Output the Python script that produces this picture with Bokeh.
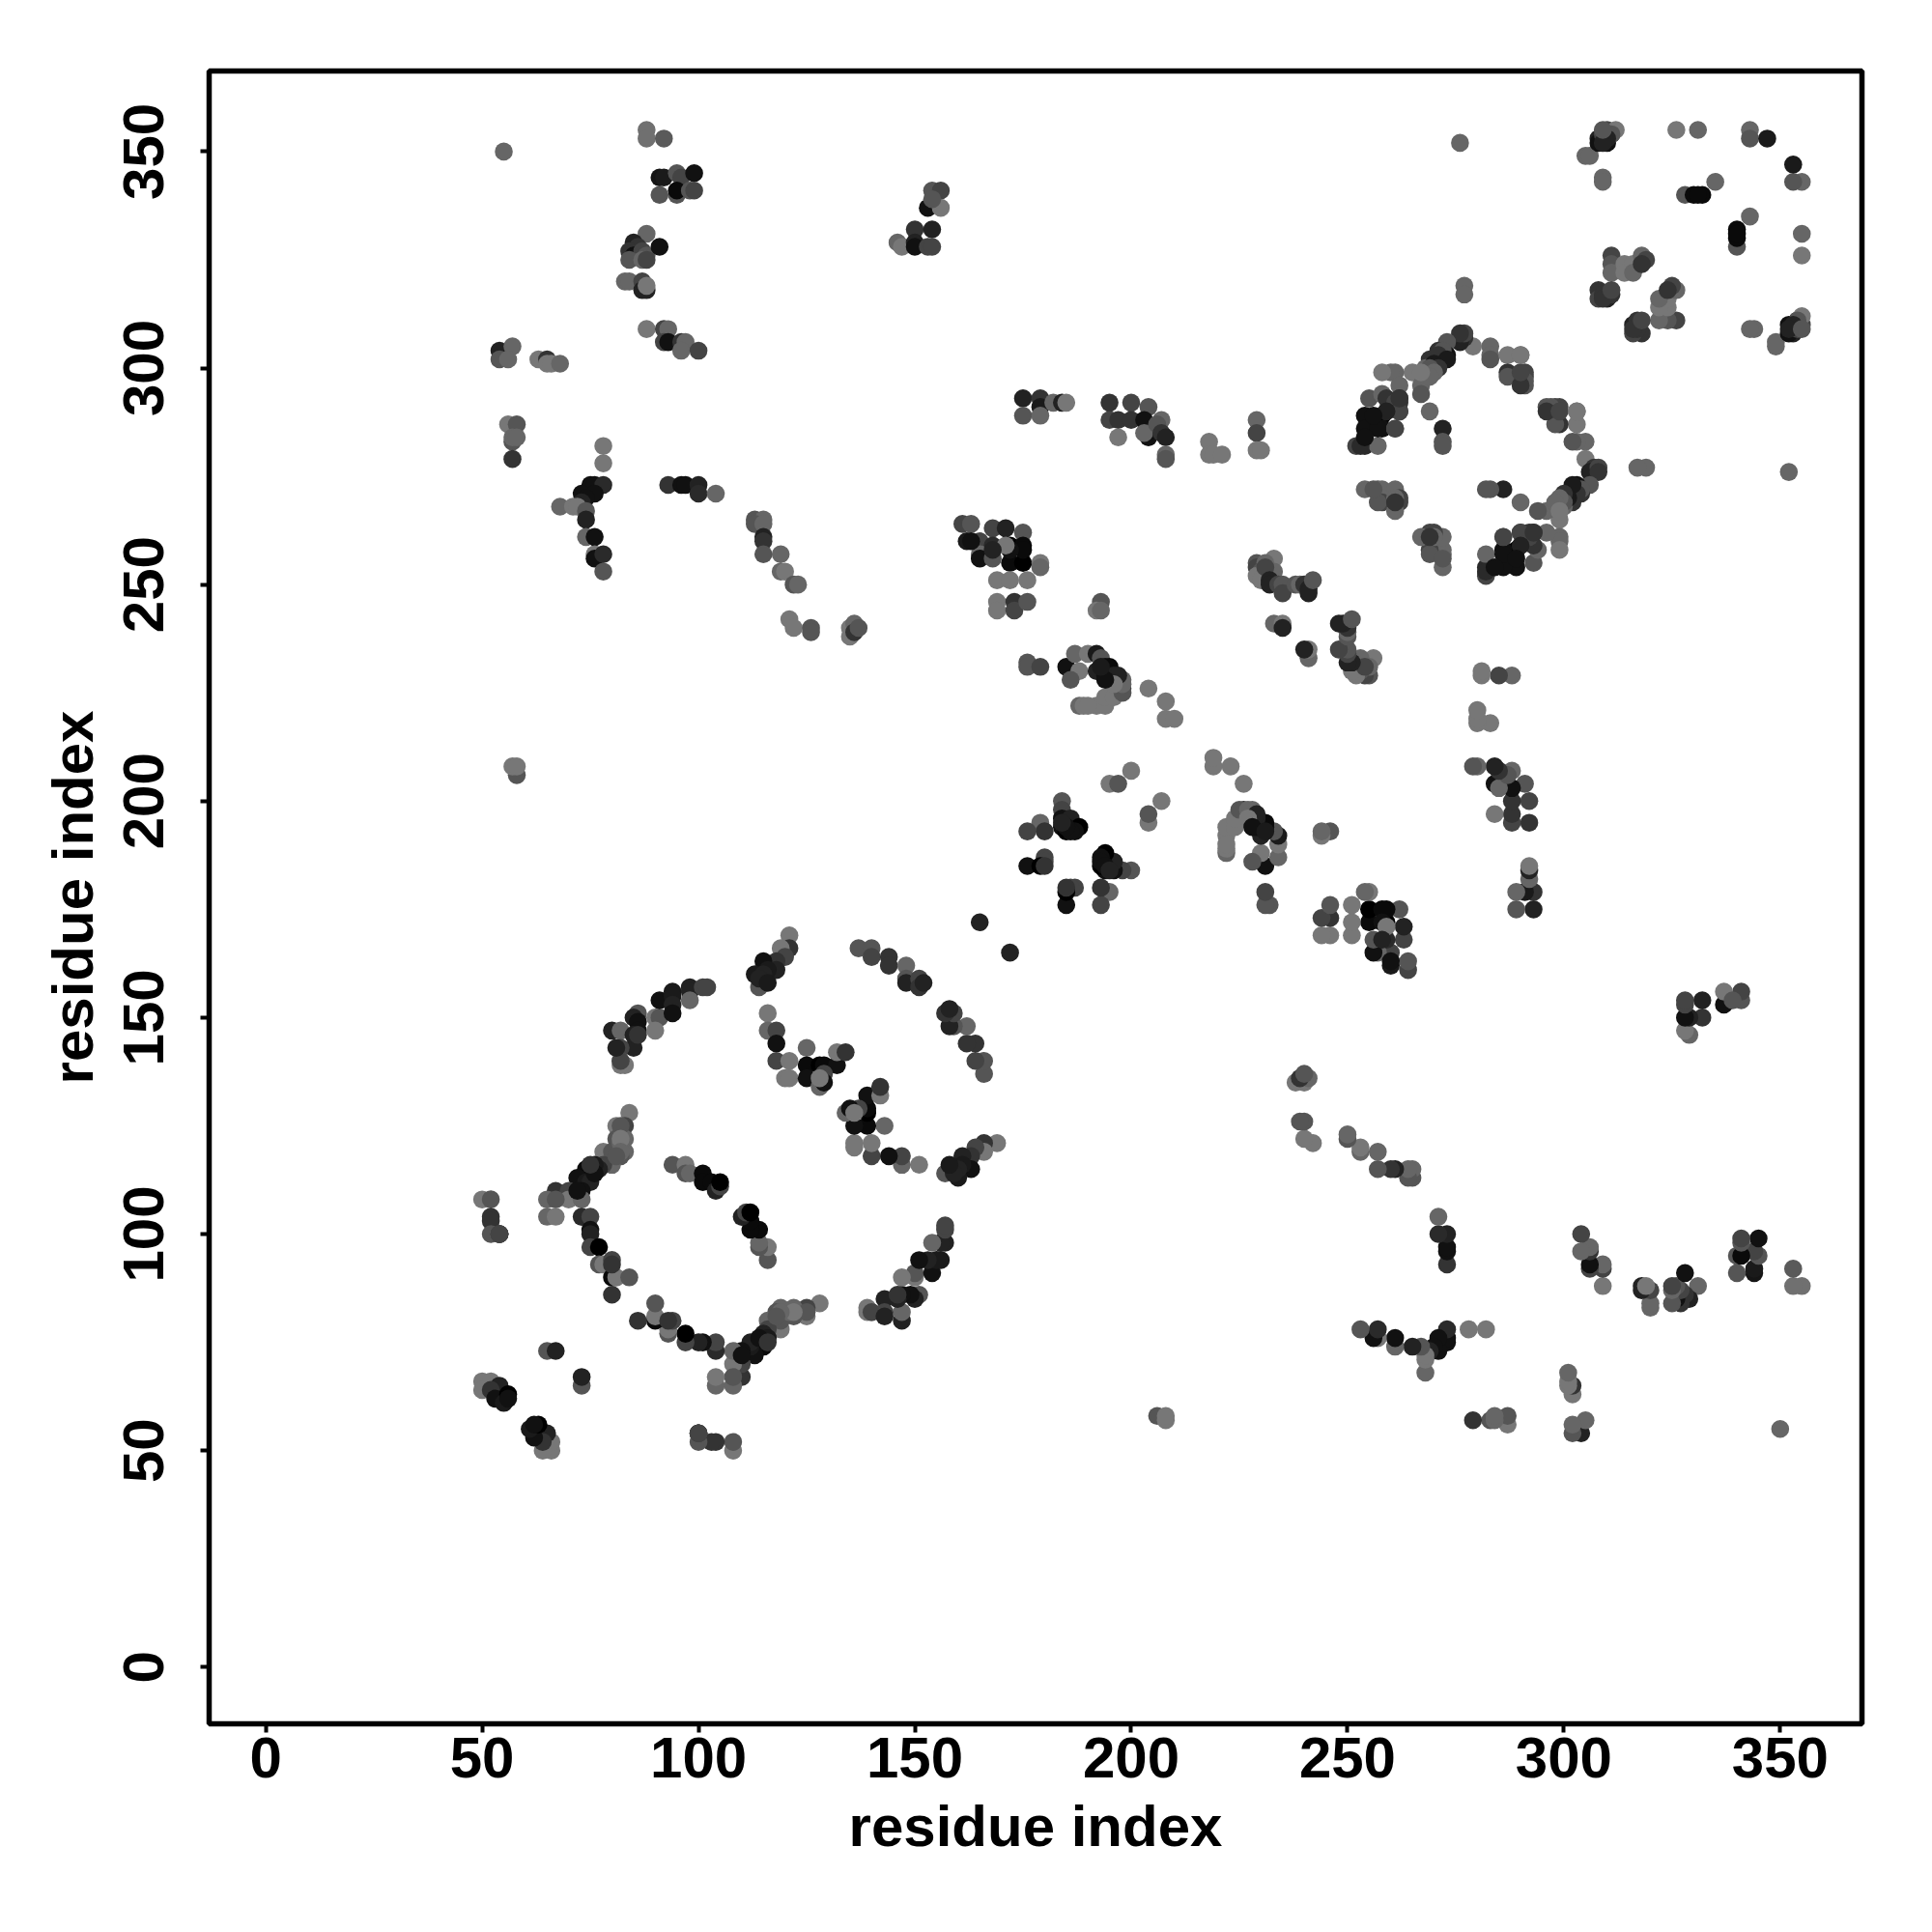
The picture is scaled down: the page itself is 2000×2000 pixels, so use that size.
from bokeh.plotting import figure
from bokeh.models import FixedTicker, Range1d, ColumnDataSource
from bokeh.embed import file_html
from bokeh.resources import INLINE

tick_values = [0, 50, 100, 150, 200, 250, 300, 350]
axis_title = "residue index"

contact_i = [
 55,88,88,92,
 91,92,95,96,99,91,95,95,98,99,
 154,156,153,156,154,150,154,146,147,150,150,153,154,
 88,85,86,84,85,87,88,84,87,88,91,
 83,84,87,87,88,88,
 88,92,93,92,93,96,97,96,100,
 54,57,54,56,63,65,65,66,68,
 56,58,57,57,58,57,
 78,78,75,76,78,73,76,74,73,68,71,72,74,74,74,76,76,76,78,78,
 93,96,97,100,100,104,
 113,115,113,115,115,115,115,119,119,120,122,123,121,122,126,126,135,135,136,136,137,
 58,57,58,
 114,121,121,119,120,118,115,118,116,113,115,114,116,
 137,140,140,144,144,148,148,148,151,151,152,
 80,82,86,85,86,86,85,85,82,82,83,90,91,90,91,94,94,94,94,98,98,98,101,102,
 116,116,118,118,118,121,125,125,128,129,132,132,134,120,121,125,128,129,129,128,
 84,83,81,83,81,83,78,80,82,80,78,77,74,76,72,74,75,73,67,70,70,65,67,73,65,67,73,75,75,75,75,77,77,78,80,80,81,84,80,80,
 50,52,52,52,52,54,
 94,97,97,98,101,101,103,104,105,105,
 82,82,82,82,81,76,75,72,
 82,82,81,86,
 65,67,50,52,50,54,52,53,55,56,56,
 100,100,100,100,
 175,175,179,179,179,182,184,185,
 195,195,197,200,200,197,204,203,204,203,207,206,207,208,208,208,
 218,218,219,221,229,229,229,230,
 276,305,306,309,309,308,308,310,309,310,311,312,311,310,309,309,
 326,331,343,343,347,
 335,328,330,332,331,
 311,311,311,314,314,316,316,318,319,318,
 308,308,309,310,311,309,311,
 277,277,
 283,283,283,279,276,277,276,277,276,287,287,287,290,291,291,291,291,290,290,290,
 273,273,271,270,269,270,268,268,265,261,260,258,267,267,269,262,262,
 272,272,272,
 255,258,259,254,258,262,262,254,258,261,252,254,257,
 254,257,258,261,258,262,261,262,
 272,271,273,270,271,269,270,269,267,
 261,262,262,259,257,253,254,256,261,
 261,257,256,261,
 161,163,168,171,175,162,165,168,172,175,165,165,168,172,175,179,179,169,172,176,169,169,173,173,176,
 175,172,171,168,163,
 193,192,193,
 176,176,179,185,187,190,188,186,192,193,192,194,195,194,196,197,198,198,
 188,189,192,194,194,196,198,204,208,208,210,
 198,197,196,194,190,193,
 200,195,197,
 184,184,184,186,184,185,188,187,179,176,180,
 176,180,180,179,186,185,184,180,
 165,
 233,229,229,231,230,233,229,230,231,232,232,234,235,235,238,239,240,241,241,242,233,235,235,
]

contact_j = [
 350,355,353,353,
 344,344,345,344,345,340,340,341,341,341,
 341,341,337,337,339,332,332,329,328,329,328,328,328,
 331,329,328,327,326,327,326,325,325,325,328,
 320,320,320,318,318,319,
 309,309,309,306,306,306,306,304,304,
 304,305,302,302,302,302,301,301,301,
 287,287,283,284,284,279,
 282,278,273,273,273,271,271,270,269,268,268,268,267,265,261,261,257,256,257,253,
 273,273,273,273,271,271,
 265,265,264,264,261,260,257,257,253,253,250,250,242,240,240,239,238,240,241,239,240,
 206,208,208,
 157,169,166,166,164,163,163,161,161,160,160,159,158,
 166,166,164,164,162,162,159,158,159,157,158,
 147,147,151,150,149,147,146,143,143,140,139,150,150,147,154,156,155,153,151,157,156,154,157,157,
 151,147,147,144,140,140,143,139,139,139,139,142,142,136,136,136,134,137,135,136,
 128,125,125,122,122,119,119,119,118,116,116,115,115,116,113,112,112,110,110,110,108,108,108,108,104,104,104,104,101,100,97,97,93,93,94,90,90,90,93,86,
 108,108,104,103,100,100,
 116,116,114,114,114,112,112,110,111,112,
 125,121,122,119,118,114,116,110,
 139,140,143,146,
 73,73,66,66,64,65,64,62,61,63,62,
 54,54,54,54,
 293,289,293,291,289,292,292,292,
 292,288,288,292,288,284,291,288,284,285,288,287,285,284,280,279,
 283,280,280,280,288,285,281,281,
 352,349,349,344,343,353,352,352,354,355,354,355,354,353,352,355,
 355,355,355,353,353,
 343,340,340,340,340,
 326,324,322,324,322,324,322,326,325,324,
 318,316,317,316,317,316,318,
 319,317,
 305,303,302,305,307,307,306,308,308,303,299,298,303,299,298,297,296,296,299,303,
 306,303,304,302,302,300,300,298,299,299,299,299,296,294,290,296,293,
 286,283,282,
 293,294,293,289,289,290,292,286,286,286,282,282,282,
 272,272,272,272,269,269,267,270,
 304,303,302,301,300,300,299,298,299,
 292,290,293,290,286,282,284,289,286,
 270,269,272,269,
 264,264,263,263,262,260,260,259,259,259,257,256,256,255,255,255,254,251,251,251,246,244,246,244,246,
 258,258,259,258,260,
 246,244,244,
 232,231,231,231,234,234,230,228,234,233,230,231,231,229,229,228,228,226,
 222,222,222,222,224,224,225,226,223,219,219,
 227,229,227,228,222,231,
 207,204,204,
 200,198,196,196,194,193,194,193,195,193,193,
 185,187,186,185,193,194,195,185,
 172,
 256,255,254,255,253,253,252,251,254,251,250,250,250,248,250,250,250,249,248,251,241,241,240,
]

contact_gray = [
 0x66,0x70,0x70,0x5a,
 0x15,0x1a,0x55,0x44,0x11,0x55,0x55,0x0a,0x55,0x44,
 0x55,0x44,0x11,0x77,0x55,0x33,0x22,0x66,0x77,0x22,0x11,0x44,0x44,
 0x66,0x22,0x33,0x33,0x11,0x44,0x55,0x55,0x66,0x44,0x11,
 0x66,0x66,0x44,0x22,0x22,0x77,
 0x77,0x44,0x66,0x44,0x11,0x33,0x66,0x66,0x44,
 0x22,0x66,0x55,0x66,0x77,0x33,0x77,0x77,0x66,
 0x77,0x55,0x55,0x66,0x66,0x33,
 0x77,0x77,0x11,0x11,0x2a,0x11,0x11,0x11,0x22,0x66,0x77,0x77,0x55,0x22,0x66,0x11,0x77,0x11,0x2a,0x55,
 0x33,0x11,0x11,0x22,0x2a,0x66,
 0x55,0x66,0x55,0x66,0x22,0x33,0x55,0x66,0x66,0x77,0x55,0x66,0x77,0x77,0x55,0x55,0x77,0x77,0x66,0x33,0x55,
 0x55,0x77,0x77,
 0x55,0x77,0x33,0x77,0x44,0x33,0x11,0x22,0x1a,0x1a,0x22,0x22,0x1a,
 0x55,0x55,0x44,0x33,0x33,0x66,0x55,0x22,0x44,0x33,0x22,
 0x22,0x66,0x55,0x22,0x11,0x11,0x22,0x22,0x44,0x66,0x77,0x77,0x55,0x77,0x11,0x1a,0x1a,0x22,0x11,0x22,0x22,0x66,0x44,0x44,
 0x77,0x66,0x44,0x11,0x44,0x77,0x66,0x0a,0x00,0x0a,0x11,0x77,0x33,0x77,0x77,0x11,0x66,0x44,0x11,0x77,
 0x77,0x44,0x77,0x66,0x55,0x66,0x77,0x55,0x55,0x66,0x44,0x22,0x0a,0x1a,0x11,0x1a,0x22,0x11,0x33,0x44,0x77,0x66,0x55,0x66,0x66,0x77,0x2a,0x44,0x11,0x22,0x44,0x00,0x55,0x77,0x44,0x0a,0x77,0x55,0x33,0x33,
 0x77,0x55,0x33,0x33,0x55,0x44,
 0x55,0x77,0x55,0x66,0x0a,0x0a,0x0a,0x22,0x44,0x00,
 0x55,0x66,0x77,0x66,0x55,0x11,0x33,0x11,
 0x77,0x44,0x22,0x33,
 0x55,0x22,0x77,0x77,0x77,0x22,0x33,0x11,0x1a,0x00,0x11,
 0x44,0x44,0x44,0x44,
 0x22,0x55,0x33,0x1a,0x66,0x66,0x22,0x77,
 0x33,0x44,0x33,0x44,0x33,0x77,0x55,0x11,0x11,0x66,0x66,0x55,0x33,0x22,0x66,0x55,
 0x77,0x77,0x77,0x77,0x66,0x44,0x77,0x77,
 0x66,0x66,0x66,0x66,0x66,0x22,0x11,0x11,0x44,0x44,0x22,0x77,0x55,0x22,0x22,0x55,
 0x77,0x66,0x66,0x55,0x1a,
 0x66,0x55,0x0a,0x0a,0x0a,
 0x44,0x55,0x66,0x77,0x77,0x77,0x66,0x66,0x44,0x33,
 0x33,0x44,0x33,0x22,0x33,0x33,0x44,
 0x66,0x66,
 0x66,0x66,0x55,0x77,0x55,0x33,0x22,0x44,0x33,0x77,0x33,0x55,0x77,0x44,0x44,0x55,0x55,0x33,0x44,0x77,
 0x55,0x11,0x33,0x33,0x33,0x55,0x66,0x55,0x77,0x66,0x66,0x77,0x66,0x55,0x66,0x66,0x33,
 0x22,0x55,0x55,
 0x55,0x66,0x33,0x11,0x00,0x44,0x33,0x11,0x11,0x66,0x44,0x2a,0x66,
 0x66,0x55,0x66,0x66,0x44,0x44,0x66,0x44,
 0x55,0x33,0x1a,0x1a,0x33,0x55,0x66,0x66,0x77,
 0x44,0x44,0x33,0x22,0x11,0x2a,0x11,0x11,0x44,
 0x66,0x55,0x55,0x33,
 0x44,0x55,0x44,0x22,0x55,0x1a,0x44,0x2a,0x00,0x0a,0x66,0x11,0x55,0x0a,0x00,0x77,0x66,0x77,0x77,0x77,0x77,0x77,0x33,0x44,0x55,
 0x0a,0x11,0x77,0x22,0x11,
 0x55,0x77,0x66,
 0x55,0x55,0x44,0x11,0x66,0x77,0x77,0x55,0x1a,0x55,0x22,0x11,0x0a,0x11,0x22,0x0a,0x66,0x33,
 0x66,0x77,0x77,0x77,0x77,0x77,0x55,0x77,0x77,0x77,0x77,
 0x66,0x22,0x77,0x11,0x77,0x1a,
 0x77,0x77,0x55,
 0x55,0x44,0x11,0x22,0x11,0x00,0x00,0x11,0x66,0x44,0x33,
 0x11,0x44,0x44,0x00,0x11,0x11,0x22,0x33,
 0x22,
 0x77,0x55,0x44,0x66,0x55,0x66,0x77,0x77,0x44,0x22,0x22,0x44,0x55,0x44,0x55,0x66,0x33,0x22,0x22,0x55,0x66,0x77,0x22,
]

n = min(len(contact_i), len(contact_j), len(contact_gray))

xs, ys, cols = [], [], []
for a, b, g in zip(contact_i[:n], contact_j[:n], contact_gray[:n]):
    c = "#%02x%02x%02x" % (g, g, g)
    xs += [a, b]
    ys += [b, a]
    cols += [c, c]

src = ColumnDataSource(dict(x=xs, y=ys, c=cols))

p = figure(
    frame_width=1711, frame_height=1711,
    min_border_left=216, min_border_right=40, min_border_top=73, min_border_bottom=170,
    x_range=Range1d(-13.1, 368.9), y_range=Range1d(-13.1, 368.6),
    output_backend="svg", toolbar_location=None,
    background_fill_color="white", border_fill_color="white",
)
p.grid.visible = False
p.outline_line_color = "black"
p.outline_line_width = 5.5

p.scatter("x", "y", source=src, size=18.6, fill_color="c", line_color=None, marker="circle")

for ax, standoff, lab in ((p.xaxis[0], 5, 14), (p.yaxis[0], 38, 17)):
    ax.ticker = FixedTicker(ticks=tick_values)
    ax.axis_label = axis_title
    ax.axis_line_color = None
    ax.major_tick_in = 0
    ax.major_tick_out = 9
    ax.major_tick_line_color = "black"
    ax.major_tick_line_width = 4
    ax.minor_tick_line_color = None
    ax.major_label_text_font = "Liberation Sans"
    ax.major_label_text_font_style = "bold"
    ax.major_label_text_font_size = "60px"
    ax.major_label_text_color = "black"
    ax.axis_label_text_font = "Liberation Sans"
    ax.axis_label_text_font_style = "bold"
    ax.axis_label_text_font_size = "60px"
    ax.axis_label_text_color = "black"
    ax.major_label_standoff = standoff
    ax.axis_label_standoff = lab
p.yaxis[0].major_label_orientation = "vertical"

open("out.html", "w").write(file_html(p, INLINE))
